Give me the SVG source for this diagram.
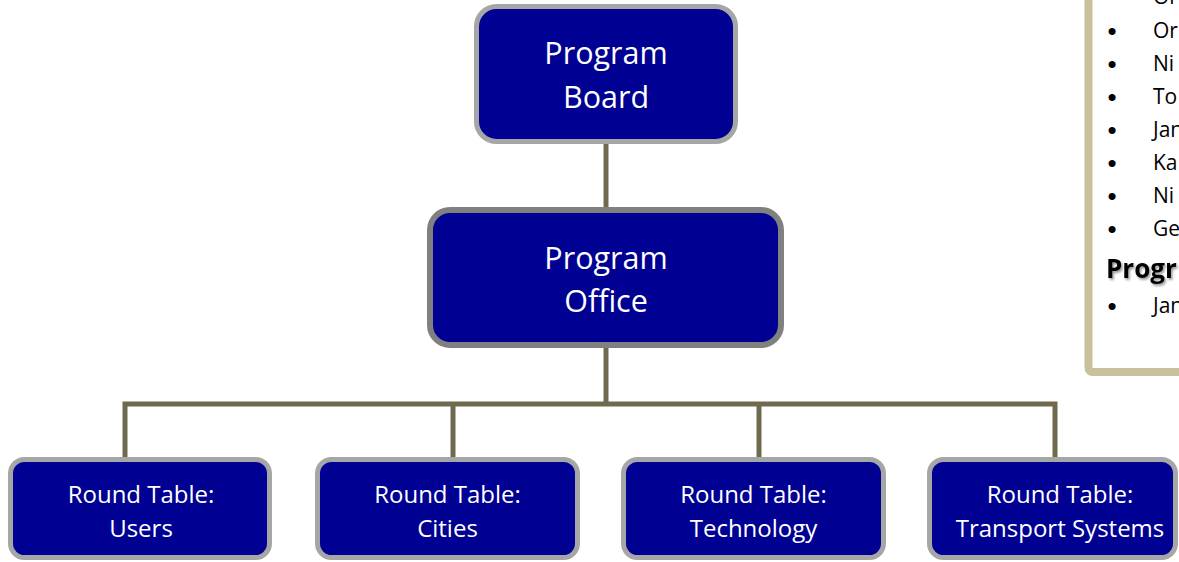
<svg xmlns="http://www.w3.org/2000/svg" width="1179" height="562" viewBox="0 0 1179 562">
<defs>
<style>
.node{fill:#000092;stroke:#A6A6A6;stroke-width:5}
.office{fill:#000092;stroke:#808080;stroke-width:6}
.lbl{fill:#FFFFFF;font-family:"Open Sans","Liberation Sans",sans-serif;text-anchor:middle}
.big{font-size:30.5px}
.small{font-size:24px}
.conn{fill:none;stroke:#6F6A4E;stroke-width:5;stroke-linejoin:miter;stroke-linecap:butt}
.ptxt{fill:#000000;font-family:"Open Sans","Liberation Sans",sans-serif;font-size:21px}
.bul{fill:#000000;font-family:"Liberation Sans",sans-serif;font-size:26px;text-anchor:middle}
.phead{fill:#000000;font-family:"Open Sans","Liberation Sans",sans-serif;font-size:26px;font-weight:bold}
</style>
<filter id="shadow" x="-10%" y="-20%" width="130%" height="150%">
<feDropShadow dx="1.5" dy="2" stdDeviation="1.2" flood-color="#000000" flood-opacity="0.4"/>
</filter>
</defs>
<rect width="1179" height="562" fill="#FFFFFF"/>
<g id="connectors">
<path class="conn" d="M606,143 V209"/>
<path class="conn" d="M606,347 V404"/>
<path class="conn" d="M125,458 V404 H1055 V458"/>
<path class="conn" d="M453,404 V458"/>
<path class="conn" d="M759,404 V458"/>
</g>
<g id="program-board">
<rect class="node" x="476.5" y="6.5" width="259" height="135" rx="20"/>
<text class="lbl big" x="606" y="64">Program</text>
<text class="lbl big" x="606" y="108">Board</text>
</g>
<g id="program-office">
<rect class="office" x="430" y="210" width="351" height="135" rx="20"/>
<text class="lbl big" x="606" y="269">Program</text>
<text class="lbl big" x="606" y="312">Office</text>
</g>
<g id="rt-users">
<rect class="node" x="10.5" y="459.5" width="259" height="98" rx="14"/>
<text class="lbl small" x="141" y="503">Round Table:</text>
<text class="lbl small" x="141" y="537">Users</text>
</g>
<g id="rt-cities">
<rect class="node" x="317.5" y="459.5" width="260" height="98" rx="14"/>
<text class="lbl small" x="447.5" y="503">Round Table:</text>
<text class="lbl small" x="447.5" y="537">Cities</text>
</g>
<g id="rt-technology">
<rect class="node" x="623.5" y="459.5" width="260" height="98" rx="14"/>
<text class="lbl small" x="753.5" y="503">Round Table:</text>
<text class="lbl small" x="753.5" y="537">Technology</text>
</g>
<g id="rt-transport">
<rect class="node" x="929.5" y="459.5" width="246" height="98" rx="14"/>
<text class="lbl small" x="1060" y="503">Round Table:</text>
<text class="lbl small" x="1060" y="537">Transport Systems</text>
</g>
<g id="members-panel">
<rect x="1088.5" y="-20" width="200" height="392" rx="4" fill="#FFFFFF" stroke="#C8C19B" stroke-width="8"/>
<text class="ptxt" x="1153" y="4">Or</text>
<text class="bul" x="1112" y="40">•</text><text class="ptxt" x="1153" y="38">Or</text>
<text class="bul" x="1112" y="73">•</text><text class="ptxt" x="1153" y="71">Ni</text>
<text class="bul" x="1112" y="106">•</text><text class="ptxt" x="1153" y="104">To</text>
<text class="bul" x="1112" y="139">•</text><text class="ptxt" x="1153" y="137">Jan</text>
<text class="bul" x="1112" y="172">•</text><text class="ptxt" x="1153" y="170">Ka</text>
<text class="bul" x="1112" y="205">•</text><text class="ptxt" x="1153" y="203">Ni</text>
<text class="bul" x="1112" y="238">•</text><text class="ptxt" x="1153" y="236">Ge</text>
<text class="phead" x="1106" y="278" filter="url(#shadow)">Progr</text>
<text class="bul" x="1112" y="315">•</text><text class="ptxt" x="1153" y="313">Jan</text>
</g>
</svg>
